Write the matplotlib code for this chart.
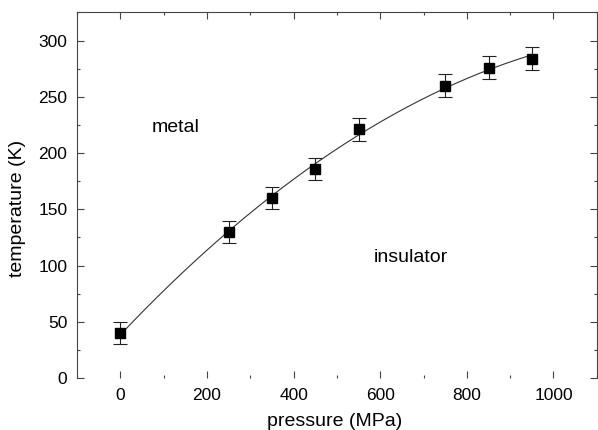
import numpy as np
import matplotlib
matplotlib.use('Agg')
import matplotlib.pyplot as plt
from matplotlib.ticker import MultipleLocator

plt.rcParams['font.family'] = ['Liberation Sans', 'DejaVu Sans']

# transition temperature vs pressure
pressure = [0, 250, 350, 450, 550, 750, 850, 950]
temperature = [40, 130, 160, 186, 221, 260, 276, 284]
temp_err = [10, 10, 10, 10, 10, 10, 10, 10]

# smooth phase boundary through the points (quadratic fit)
coef = np.polyfit(pressure, temperature, 2)
p_fit = np.linspace(min(pressure), max(pressure), 200)
t_fit = np.polyval(coef, p_fit)

fig = plt.figure(figsize=(5.98, 4.30), dpi=100)
ax = fig.add_axes([0.129, 0.121, 0.869, 0.850])

ax.plot(p_fit, t_fit, '-', color='#333333', lw=0.8)
ax.errorbar(pressure, temperature, yerr=temp_err, fmt='s', color='black',
            ms=6.5, ecolor='#222222', elinewidth=0.8, capsize=5, capthick=0.8)

ax.text(127, 219, 'metal', fontsize=14, ha='center', va='baseline')
ax.text(671, 103, 'insulator', fontsize=14, ha='center', va='baseline')

ax.set_xlim(-100, 1100)
ax.set_ylim(0, 325)
ax.xaxis.set_major_locator(MultipleLocator(200))
ax.xaxis.set_minor_locator(MultipleLocator(100))
ax.yaxis.set_major_locator(MultipleLocator(50))
ax.yaxis.set_minor_locator(MultipleLocator(25))
ax.set_xticks([0, 200, 400, 600, 800, 1000])

ax.tick_params(which='both', direction='in', top=True, right=True,
               labelsize=12.5, color='#444444', width=0.8)
ax.tick_params(which='major', length=5)
ax.tick_params(which='minor', length=2)
ax.tick_params(axis='y', pad=7)
ax.tick_params(axis='x', pad=7)

for side in ['left', 'top', 'right']:
    ax.spines[side].set_linewidth(0.8)
    ax.spines[side].set_color('#444444')
ax.spines['bottom'].set_visible(False)

ax.set_xlabel('pressure (MPa)', fontsize=14)
ax.set_ylabel('temperature (K)', fontsize=14)
ax.xaxis.set_label_coords(0.496, -0.097)
ax.yaxis.set_label_coords(-0.099, 0.465)

fig.savefig('out.png', dpi=100)
